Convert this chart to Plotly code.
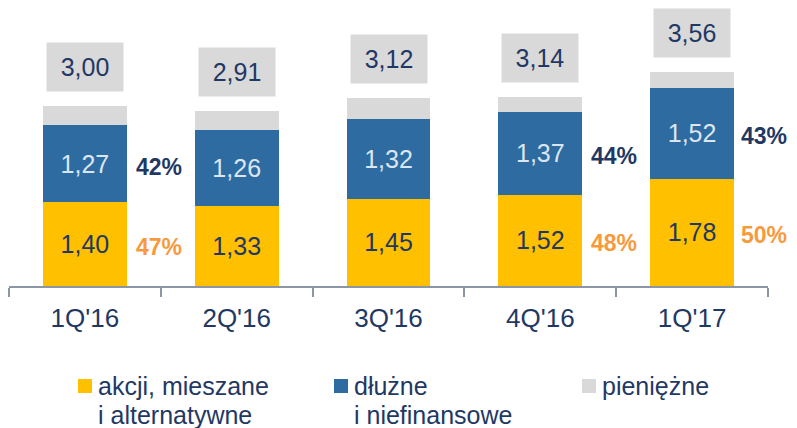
import plotly.graph_objects as go

# dane
kwartaly = ["1Q'16", "2Q'16", "3Q'16", "4Q'16", "1Q'17"]
akcji = [1.40, 1.33, 1.45, 1.52, 1.78]
dluzne = [1.27, 1.26, 1.32, 1.37, 1.52]
pieniezne = [0.33, 0.32, 0.35, 0.25, 0.26]
sumy = [3.00, 2.91, 3.12, 3.14, 3.56]
proc_dluzne = [42, None, None, 44, 43]
proc_akcji = [47, None, None, 48, 50]

YELLOW = '#FFC000'
BLUE = '#2E6BA1'
GREY = '#D9D9D9'
NAVY = '#1F3864'
ORANGE = '#F79A3E'
FONT = 'Liberation Sans, Arial, sans-serif'

# strona ma 8px marginesu body, wiec figura jest mniejsza i przesunieta
OFF = 8
W, H = 797 - OFF, 428 - OFF
ML, MR, MT, MB = 1, 29, 2, 142


def fmt(v):
    return f"{v:.2f}".replace('.', ',')


def px_x(p):
    return (p - OFF - ML) / (W - ML - MR)


def px_y(p):
    return (H - MB - (p - OFF)) / (H - MT - MB)


fig = go.Figure()

fig.add_trace(go.Bar(x=kwartaly, y=akcji, name='akcji, mieszane i alternatywne',
                     marker_color=YELLOW, text=[fmt(v) for v in akcji],
                     textposition='inside', insidetextanchor='middle', textangle=0,
                     constraintext='none',
                     textfont=dict(family=FONT, size=25, color=NAVY)))
fig.add_trace(go.Bar(x=kwartaly, y=dluzne, name='dłużne i niefinansowe',
                     marker_color=BLUE, text=[fmt(v) for v in dluzne],
                     textposition='inside', insidetextanchor='middle', textangle=0,
                     constraintext='none',
                     textfont=dict(family=FONT, size=25, color='#DCE6F2')))
fig.add_trace(go.Bar(x=kwartaly, y=pieniezne, name='pieniężne',
                     marker_color=GREY, textposition='none'))

fig.update_traces(marker_line_width=0)

annotations = []
# sumy w szarych ramkach
for k, s in zip(kwartaly, sumy):
    annotations.append(dict(x=k, y=s, xref='x', yref='y', text=fmt(s),
                            showarrow=False, yanchor='bottom', yshift=14,
                            width=76, height=48, borderpad=0, bgcolor=GREY,
                            font=dict(family=FONT, size=25, color=NAVY)))
# procenty (ostatnie troche w lewo, bo prawa krawedz strony je ucina)
for i, (k, a, d, pa, pd_) in enumerate(zip(kwartaly, akcji, dluzne, proc_akcji, proc_dluzne)):
    shift = 72 if i == len(kwartaly) - 1 else 74
    if pa is not None:
        annotations.append(dict(x=k, y=a / 2, xref='x', yref='y', text=f"<b>{pa}%</b>",
                                showarrow=False, xshift=shift, yshift=-3,
                                font=dict(family=FONT, size=23, color=ORANGE)))
    if pd_ is not None:
        annotations.append(dict(x=k, y=a + d / 2, xref='x', yref='y', text=f"<b>{pd_}%</b>",
                                showarrow=False, xshift=shift, yshift=-3,
                                font=dict(family=FONT, size=23, color=NAVY)))

# legenda (kazda linia osobno, zeby ustawic odstep)
shapes = []
legenda = [(YELLOW, 78, ['akcji, mieszane', 'i alternatywne']),
           (BLUE, 334, ['dłużne', 'i niefinansowe']),
           (GREY, 582, ['pieniężne'])]
for kolor, x0, linie in legenda:
    shapes.append(dict(type='rect', xref='paper', yref='paper',
                       x0=px_x(x0), x1=px_x(x0 + 14), y0=px_y(393), y1=px_y(379),
                       fillcolor=kolor, line_width=0))
    for i, tekst in enumerate(linie):
        annotations.append(dict(x=px_x(x0 + 18), y=px_y(386 + 29 * i), xref='paper', yref='paper',
                                xanchor='left', yanchor='middle', align='left', text=tekst,
                                showarrow=False,
                                font=dict(family=FONT, size=25, color=NAVY)))

fig.update_layout(
    width=W, height=H,
    template='none',
    barmode='stack', bargap=0.447,
    showlegend=False,
    plot_bgcolor='white', paper_bgcolor='white',
    margin=dict(l=ML, r=MR, t=MT, b=MB, autoexpand=False),
    xaxis=dict(showline=True, linecolor='#8C96A5', linewidth=2, automargin=False,
               range=[-0.5, 4.5],
               ticks='outside', tickson='boundaries', ticklen=9, tickwidth=2,
               tickcolor='#8C96A5', showgrid=False, ticklabelstandoff=8,
               tickfont=dict(family=FONT, size=26, color=NAVY)),
    yaxis=dict(visible=False, range=[0, 4.59], showgrid=False, zeroline=False,
               automargin=False),
    annotations=annotations,
    shapes=shapes,
)

fig.write_html("out.html")
